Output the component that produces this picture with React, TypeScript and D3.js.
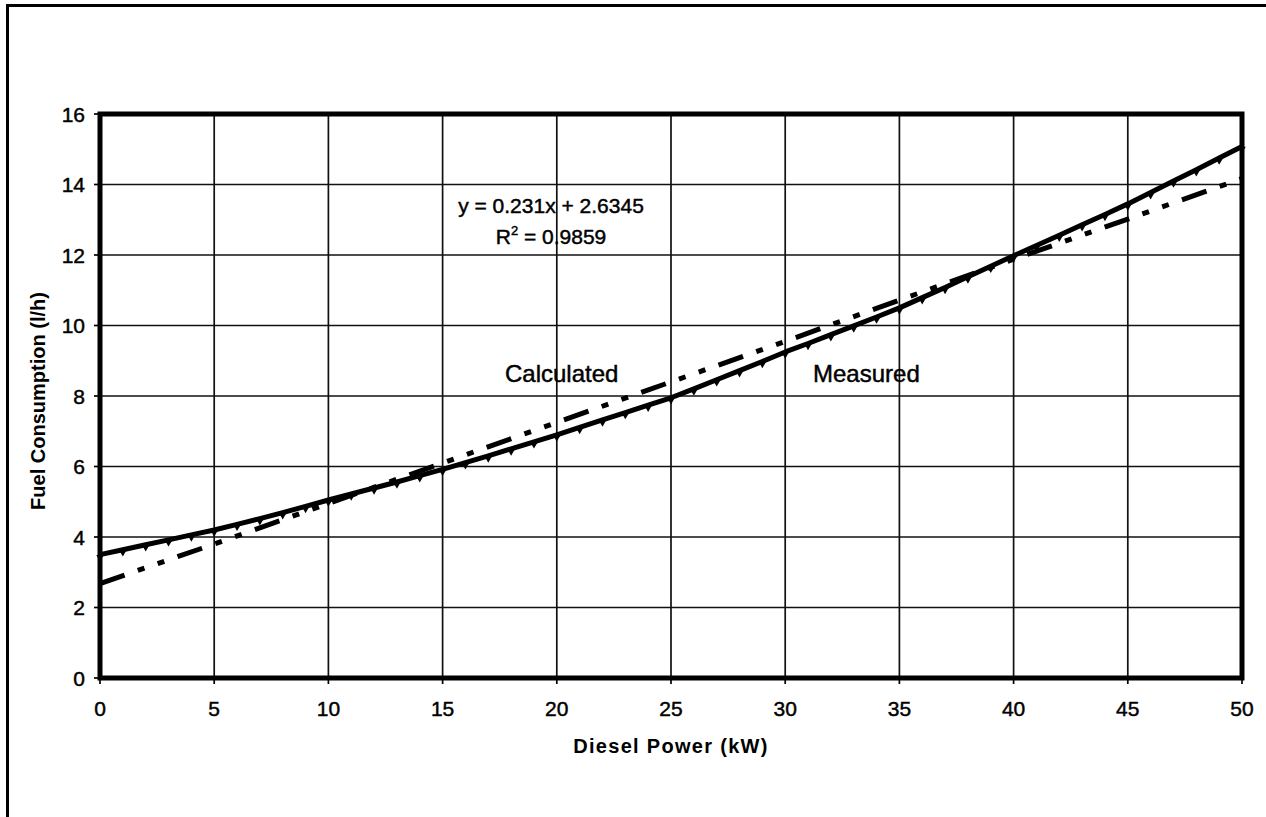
import React from "react";
import * as d3 from "d3";

const measuredPower = [0,1,2,3,4,5,6,7,8,9,10,11,12,13,14,15,16,17,18,19,20,21,22,23,24,25,26,27,28,29,30,31,32,33,34,35,36,37,38,39,40,41,42,43,44,45,46,47,48,49,50];
const measuredFuel = [3.50,3.64,3.78,3.92,4.06,4.20,4.36,4.52,4.69,4.87,5.05,5.22,5.39,5.56,5.74,5.92,6.11,6.30,6.50,6.70,6.90,7.11,7.32,7.53,7.74,7.95,8.20,8.46,8.72,8.98,9.25,9.49,9.74,9.99,10.24,10.50,10.79,11.08,11.38,11.68,11.98,12.27,12.56,12.86,13.15,13.45,13.77,14.10,14.42,14.75,15.08];

const calcPower = [0,5,10,15,20,25,30,35,40,45,50];
const calcFuel = [2.68,3.80,4.95,6.10,7.25,8.40,9.55,10.72,11.88,13.02,14.17];

const xTicks = [0,5,10,15,20,25,30,35,40,45,50];
const yTicks = [0,2,4,6,8,10,12,14,16];

const xTitle = "Diesel Power (kW)";
const yTitle = "Fuel Consumption (l/h)";
const equationText = "y = 0.231x + 2.6345";
const r2Value = "0.9859";
const calcLabel = "Calculated";
const measLabel = "Measured";

const FONT = "'Liberation Sans', Arial, Helvetica, sans-serif";

export default function App() {
  const W = 1266, H = 817;
  const x = d3.scaleLinear().domain([0, 50]).range([100, 1242]);
  const y = d3.scaleLinear().domain([0, 16]).range([678, 114]);

  const measured = measuredPower.map((p, i) => [p, measuredFuel[i]] as [number, number]);
  const calc = calcPower.map((p, i) => [p, calcFuel[i]] as [number, number]);

  const line = d3.line<[number, number]>().x(d => x(d[0])).y(d => y(d[1]));
  const tri = d3.symbol().type(d3.symbolTriangle).size(24)();

  const [x0, x1] = x.range();
  const [y0, y1] = y.range();

  const heavy = { stroke: "#000", strokeWidth: 0.45 };

  return (
    <svg width={W} height={H} style={{ position: "absolute", left: 0, top: 0, display: "block", background: "#fff" }} fontFamily={FONT}>
      {/* outer frame (only left/top visible) */}
      <rect x={7.5} y={5.5} width={W + 20} height={H + 20} fill="none" stroke="#000" strokeWidth={3} />

      {/* grid */}
      {xTicks.map(t => (
        <line key={"gx" + t} x1={x(t)} x2={x(t)} y1={y1} y2={y0} stroke="#111" strokeWidth={1.7} />
      ))}
      {yTicks.map(t => (
        <line key={"gy" + t} x1={x0} x2={x1} y1={y(t)} y2={y(t)} stroke="#111" strokeWidth={1.7} />
      ))}

      {/* plot border */}
      <rect x={x0} y={y1} width={x1 - x0} height={y0 - y1} fill="none" stroke="#000" strokeWidth={5} />

      {/* ticks */}
      {yTicks.map(t => (
        <line key={"ty" + t} x1={x0 - 6} x2={x0} y1={y(t)} y2={y(t)} stroke="#000" strokeWidth={1.7} />
      ))}
      {xTicks.map(t => (
        <line key={"tx" + t} x1={x(t)} x2={x(t)} y1={y0} y2={y0 + 6} stroke="#000" strokeWidth={1.7} />
      ))}

      {/* tick labels */}
      {yTicks.map(t => (
        <text key={"ly" + t} x={85} y={y(t) + 7.5} textAnchor="end" fontSize={21} fill="#000" {...heavy}>{t}</text>
      ))}
      {xTicks.map(t => (
        <text key={"lx" + t} x={x(t)} y={716} textAnchor="middle" fontSize={21} fill="#000" {...heavy}>{t}</text>
      ))}

      {/* calculated (dash-dot-dot) */}
      <path d={line(calc) || ""} fill="none" stroke="#000" strokeWidth={5} strokeDasharray="26 14 7 14 7 14" strokeLinecap="butt" />

      {/* measured (solid with markers) */}
      <path d={line(measured) || ""} fill="none" stroke="#000" strokeWidth={5} strokeLinejoin="round" />
      {measured.map((d, i) => (
        <path key={"m" + i} d={tri || ""} transform={`translate(${x(d[0])},${y(d[1]) + 2.5}) rotate(180)`} fill="#000" />
      ))}

      {/* equation */}
      <text x={551} y={213} textAnchor="middle" fontSize={21} fill="#000" {...heavy}>{equationText}</text>
      <text x={551} y={244} textAnchor="middle" fontSize={21} fill="#000" {...heavy}>
        R<tspan fontSize={13} dy={-9}>2</tspan><tspan dy={9}>{" = " + r2Value}</tspan>
      </text>

      {/* series labels */}
      <text x={505} y={382} fontSize={24} fill="#000" {...heavy}>{calcLabel}</text>
      <text x={813} y={382} fontSize={24} fill="#000" {...heavy}>{measLabel}</text>

      {/* axis titles */}
      <text x={671} y={753} textAnchor="middle" fontSize={20} fontWeight="bold" letterSpacing={1.3} fill="#000">{xTitle}</text>
      <text transform={`translate(45,401) rotate(-90)`} textAnchor="middle" fontSize={20} fontWeight="bold" fill="#000">{yTitle}</text>
    </svg>
  );
}
